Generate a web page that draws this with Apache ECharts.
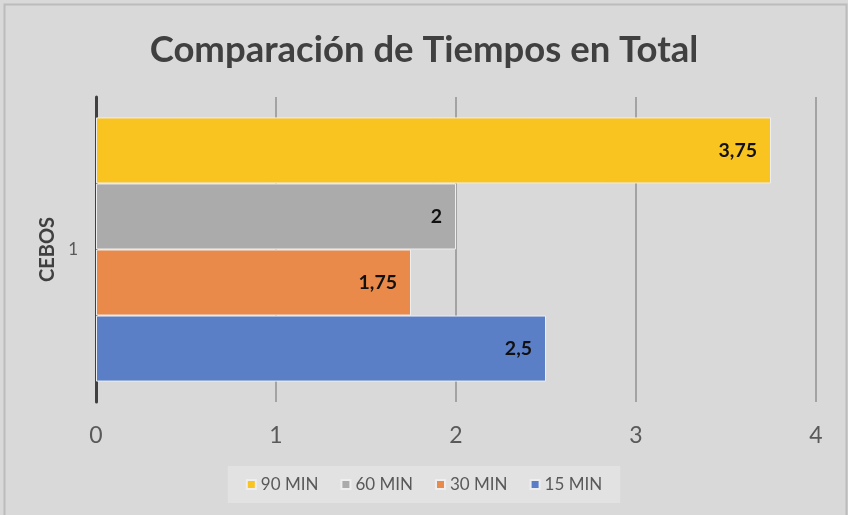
<!DOCTYPE html>
<html><head><meta charset="utf-8">
<script src="https://cdn.jsdelivr.net/npm/echarts@6/dist/echarts.min.js"></script>
<style>html,body{margin:0;padding:0;background:#d9d9d9;}#c{width:848px;height:515px;}</style>
</head><body><div id="c"></div>
<script>
const categories = ['1'];
const seriesNames = ['90 MIN', '60 MIN', '30 MIN', '15 MIN'];
const values90 = [3.75];
const values60 = [2];
const values30 = [1.75];
const values15 = [2.5];
const xTicks = [0, 1, 2, 3, 4];
const legendOrder = ['90 MIN', '60 MIN', '30 MIN', '15 MIN'];
const colors = ['#f9c320', '#ababab', '#e98a4a', '#5a7fc7'];

const allValues = [values90, values60, values30, values15];
const chart = echarts.init(document.getElementById('c'));
const font = 'Lato, "Open Sans", sans-serif';
chart.setOption({
  backgroundColor: '#d9d9d9',
  animation: false,
  textStyle: { fontFamily: font },
  title: {
    text: 'Comparación de Tiempos en Total',
    left: 'center', top: 27,
    textStyle: { fontSize: 36.5, fontWeight: 'bold', color: '#404040', fontFamily: font }
  },
  graphic: [{
    type: 'rect', shape: { x: 4.5, y: 4.5, width: 842, height: 512 },
    style: { fill: 'none', stroke: '#bcbcbc', lineWidth: 2 }, silent: true
  }],
  legend: {
    data: legendOrder, bottom: 12, left: 'center',
    icon: 'rect', itemWidth: 9, itemHeight: 9, itemGap: 22,
    backgroundColor: '#e2e2e2', padding: [10, 18, 10, 18],
    textStyle: { fontSize: 17, color: '#595959', fontFamily: font }
  },
  grid: { left: 96, right: 32, top: 97, bottom: 113 },
  xAxis: {
    type: 'value', min: xTicks[0], max: xTicks[xTicks.length - 1], interval: 1,
    axisLine: { show: false }, axisTick: { show: false },
    splitLine: { lineStyle: { color: '#a3a3a3', width: 2 } },
    axisLabel: { fontSize: 23, color: '#595959', margin: 22, fontFamily: font }
  },
  yAxis: {
    type: 'category', data: categories,
    axisLine: { lineStyle: { color: '#404040', width: 3 } },
    axisTick: { show: false },
    axisLabel: { fontSize: 17, color: '#595959', margin: 18, fontFamily: font },
    name: 'CEBOS', nameLocation: 'middle', nameRotate: 90, nameGap: 38,
    nameTextStyle: { fontSize: 20, fontWeight: 'bold', color: '#404040', fontFamily: font }
  },
  series: seriesNames.map((n, i) => ({
    name: n, type: 'bar', data: allValues[i],
    barGap: '0%', barCategoryGap: '13.4%',
    itemStyle: { color: colors[i], borderColor: '#eeeeee', borderWidth: 1 },
    label: {
      show: true, position: 'insideRight', distance: 14,
      formatter: p => String(p.value).replace('.', ','),
      fontSize: 19.5, fontWeight: 'bold', color: '#111111', fontFamily: font
    }
  }))
});
</script></body></html>
